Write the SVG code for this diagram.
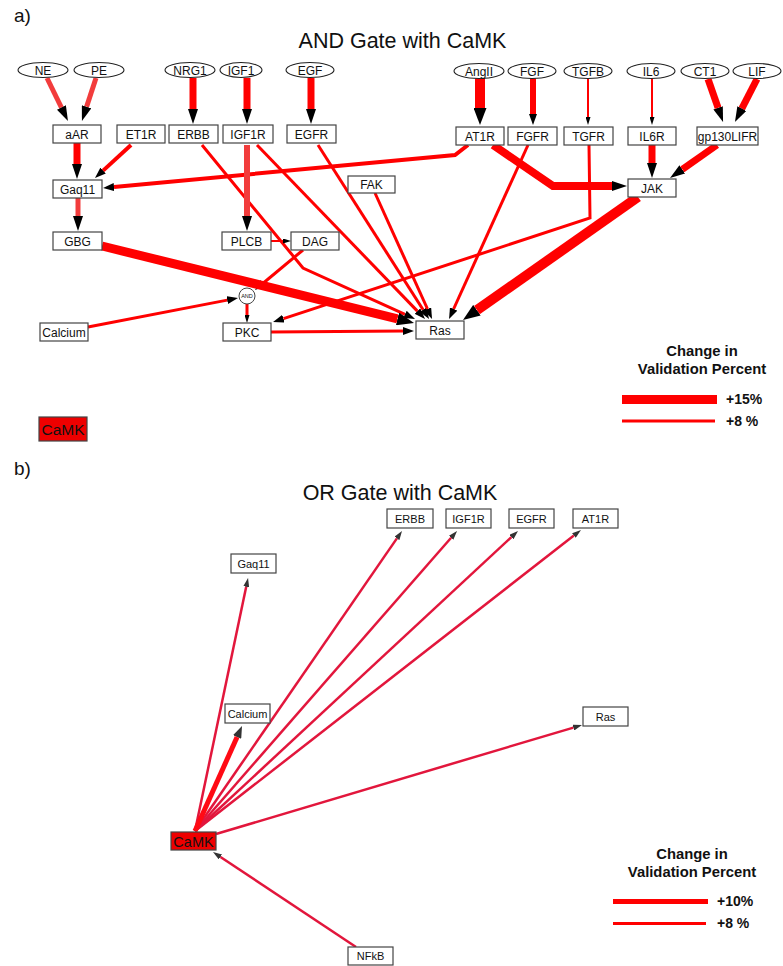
<svg xmlns="http://www.w3.org/2000/svg" width="783" height="966" viewBox="0 0 783 966">
<style>
text{font-family:"Liberation Sans",Arial,sans-serif;fill:#111}
.lbl{font-size:12px;text-anchor:middle}
.lblb{font-size:11px;text-anchor:middle}
.box{fill:#fff;stroke:#444;stroke-width:1.2}
.ell{fill:#fff;stroke:#222;stroke-width:1.1}
.e{fill:none;stroke:#ff0000;stroke-linejoin:miter}
.el{fill:none;stroke:#f23c3c}
.eb{fill:none;stroke:#e2163c;stroke-width:2.5}
.title{font-size:21.5px;text-anchor:middle}
.panel{font-size:19px}
.leg{font-size:14.8px;font-weight:bold;text-anchor:middle}
.legv{font-size:14px;font-weight:bold}
</style>
<defs>
<marker id="aXL" markerUnits="userSpaceOnUse" markerWidth="17" markerHeight="13" refX="0" refY="6.5" orient="auto"><path d="M0,0L17,6.5L0,13z" fill="#000"/></marker>
<marker id="aL" markerUnits="userSpaceOnUse" markerWidth="15" markerHeight="10" refX="0" refY="5" orient="auto"><path d="M0,0L15,5L0,10z" fill="#000"/></marker>
<marker id="aM" markerUnits="userSpaceOnUse" markerWidth="11" markerHeight="8" refX="0" refY="4" orient="auto"><path d="M0,0L11,4L0,8z" fill="#000"/></marker>
<marker id="aS" markerUnits="userSpaceOnUse" markerWidth="8" markerHeight="5" refX="0" refY="2.5" orient="auto"><path d="M0,0L8,2.5L0,5z" fill="#000"/></marker>
<marker id="bS" markerUnits="userSpaceOnUse" markerWidth="9" markerHeight="6" refX="0" refY="3" orient="auto"><path d="M0,0L9,3L0,6z" fill="#333"/></marker>
<marker id="bL" markerUnits="userSpaceOnUse" markerWidth="12" markerHeight="9" refX="0" refY="4.5" orient="auto"><path d="M0,0L12,4.5L0,9z" fill="#333"/></marker>
</defs>
<rect width="783" height="966" fill="#fff"/>

<text class="panel" x="14" y="22">a)</text>
<text class="title" x="402.5" y="48">AND Gate with CaMK</text>
<text class="panel" x="14" y="475">b)</text>
<text class="title" x="400" y="500">OR Gate with CaMK</text>

<g id="connectors-a">
<path class="el" stroke-width="5" d="M47,78L61.4,107.5" marker-end="url(#aL)"/>
<path class="el" stroke-width="5" d="M96,78L86.6,106.7" marker-end="url(#aL)"/>
<path class="e" stroke-width="7" d="M77,143L77,164" marker-end="url(#aL)"/>
<path class="e" stroke-width="4" d="M131,145L103.1,170.6" marker-end="url(#aM)"/>
<path class="e" stroke-width="7" d="M193,78L193,109" marker-end="url(#aL)"/>
<path class="e" stroke-width="7" d="M247,78L247,109" marker-end="url(#aL)"/>
<path class="e" stroke-width="7" d="M311,78L311,109" marker-end="url(#aL)"/>
<path class="e" stroke-width="10" d="M480,78L480,108" marker-end="url(#aXL)"/>
<path class="e" stroke-width="6" d="M533,78L533,114" marker-end="url(#aM)"/>
<path class="e" stroke-width="2" d="M588,78L588,117" marker-end="url(#aS)"/>
<path class="e" stroke-width="2" d="M652,78L652,117" marker-end="url(#aS)"/>
<path class="e" stroke-width="7" d="M708,79L718.1,107.8" marker-end="url(#aL)"/>
<path class="e" stroke-width="7" d="M757,79L741.8,108.6" marker-end="url(#aL)"/>
<path class="e" stroke-width="7" d="M652,145L652,163" marker-end="url(#aL)"/>
<path class="e" stroke-width="7" d="M717,145L682.3,169.4" marker-end="url(#aL)"/>
<path class="e" stroke-width="8" d="M493,145L553,186L612,186" marker-end="url(#aL)"/>
<path class="e" stroke-width="4" d="M468,145L455,155L114,187" marker-end="url(#aM)"/>
<path class="e" stroke-width="3" d="M528,145L453.6,309" marker-end="url(#aM)"/>
<path class="e" stroke-width="3" d="M589,145L590,218L283.5,318.6" marker-end="url(#aM)"/>
<path class="e" stroke-width="10" d="M638,197L476.9,310.2" marker-end="url(#aXL)"/>
<path class="e" stroke-width="3" d="M318,145L423.1,309.7" marker-end="url(#aM)"/>
<path class="e" stroke-width="3" d="M375,193L427.5,309" marker-end="url(#aM)"/>
<path class="e" stroke-width="3" d="M257,145L417.4,311.1" marker-end="url(#aM)"/>
<path class="e" stroke-width="3" d="M202,145L303,268L405,314.4" marker-end="url(#aM)"/>
<path class="el" stroke-width="6" d="M247,145L247,216" marker-end="url(#aL)"/>
<path class="e" stroke-width="2" d="M271,241L283,241" marker-end="url(#aS)"/>
<path class="e" stroke-width="3" d="M303,250L263.4,283" marker-end="url(#aM)"/>
<path class="e" stroke-width="3" d="M88,327L227.2,300.1" marker-end="url(#aM)"/>
<path class="e" stroke-width="3" d="M247,304L247,315" marker-end="url(#aS)"/>
<path class="e" stroke-width="9" d="M102,246L397.5,318.9" marker-end="url(#aXL)"/>
<path class="e" stroke-width="3" d="M271,332L403,331" marker-end="url(#aM)"/>
<path class="el" stroke-width="5" d="M78,198L78,216" marker-end="url(#aL)"/>
</g>

<g id="node-NE"><ellipse class="ell" cx="43" cy="70" rx="25" ry="7.5"/><text class="lbl" x="43" y="74.5">NE</text></g>
<g id="node-PE"><ellipse class="ell" cx="99" cy="70" rx="25" ry="7.5"/><text class="lbl" x="99" y="74.5">PE</text></g>
<g id="node-NRG1"><ellipse class="ell" cx="190" cy="70" rx="25" ry="7.5"/><text class="lbl" x="190" y="74.5">NRG1</text></g>
<g id="node-IGF1"><ellipse class="ell" cx="241" cy="70" rx="21" ry="7.5"/><text class="lbl" x="241" y="74.5">IGF1</text></g>
<g id="node-EGF"><ellipse class="ell" cx="310" cy="70" rx="24" ry="7.5"/><text class="lbl" x="310" y="74.5">EGF</text></g>
<g id="node-AngII"><ellipse class="ell" cx="479" cy="71" rx="25" ry="7.5"/><text class="lbl" x="479" y="75.5">AngII</text></g>
<g id="node-FGF"><ellipse class="ell" cx="532" cy="71" rx="24" ry="7.5"/><text class="lbl" x="532" y="75.5">FGF</text></g>
<g id="node-TGFB"><ellipse class="ell" cx="588" cy="71" rx="24" ry="7.5"/><text class="lbl" x="588" y="75.5">TGFB</text></g>
<g id="node-IL6"><ellipse class="ell" cx="651" cy="71" rx="24" ry="7.5"/><text class="lbl" x="651" y="75.5">IL6</text></g>
<g id="node-CT1"><ellipse class="ell" cx="705" cy="71" rx="24" ry="7.5"/><text class="lbl" x="705" y="75.5">CT1</text></g>
<g id="node-LIF"><ellipse class="ell" cx="757" cy="71" rx="24" ry="7.5"/><text class="lbl" x="757" y="75.5">LIF</text></g>

<g id="node-aAR"><rect class="box" x="53" y="125" width="48" height="18"/><text class="lbl" x="77" y="138.5">aAR</text></g>
<g id="node-ET1R"><rect class="box" x="117" y="125" width="48" height="18"/><text class="lbl" x="141" y="138.5">ET1R</text></g>
<g id="node-ERBB"><rect class="box" x="169" y="125" width="49" height="18"/><text class="lbl" x="193.5" y="138.5">ERBB</text></g>
<g id="node-IGF1R"><rect class="box" x="223" y="125" width="50" height="18"/><text class="lbl" x="248" y="138.5">IGF1R</text></g>
<g id="node-EGFR"><rect class="box" x="287" y="125" width="49" height="18"/><text class="lbl" x="311.5" y="138.5">EGFR</text></g>
<g id="node-AT1R"><rect class="box" x="456" y="127" width="48" height="18"/><text class="lbl" x="480" y="140.5">AT1R</text></g>
<g id="node-FGFR"><rect class="box" x="508" y="127" width="49" height="18"/><text class="lbl" x="532.5" y="140.5">FGFR</text></g>
<g id="node-TGFR"><rect class="box" x="564" y="127" width="49" height="18"/><text class="lbl" x="588.5" y="140.5">TGFR</text></g>
<g id="node-IL6R"><rect class="box" x="628" y="127" width="48" height="18"/><text class="lbl" x="652" y="140.5">IL6R</text></g>
<g id="node-gp130LIFR"><rect class="box" x="697" y="127" width="61" height="18"/><text class="lbl" x="727.5" y="140.5">gp130LIFR</text></g>
<g id="node-Gaq11"><rect class="box" x="53" y="180" width="49" height="18"/><text class="lbl" x="77.5" y="193.5">Gaq11</text></g>
<g id="node-FAK"><rect class="box" x="348" y="176" width="47" height="17"/><text class="lbl" x="371.5" y="189">FAK</text></g>
<g id="node-JAK"><rect class="box" x="628" y="179" width="48" height="18"/><text class="lbl" x="652" y="192.5">JAK</text></g>
<g id="node-GBG"><rect class="box" x="53" y="232" width="49" height="18"/><text class="lbl" x="77.5" y="245.5">GBG</text></g>
<g id="node-PLCB"><rect class="box" x="222" y="232" width="49" height="18"/><text class="lbl" x="246.5" y="245.5">PLCB</text></g>
<g id="node-DAG"><rect class="box" x="291" y="232" width="48" height="18"/><text class="lbl" x="315" y="245.5">DAG</text></g>
<g id="node-AND"><circle cx="247" cy="296" r="8" fill="#fff" stroke="#444" stroke-width="1"/><text x="247" y="298.2" style="font-size:5.5px;text-anchor:middle">AND</text></g>
<g id="node-Calcium"><rect class="box" x="40" y="323" width="48" height="18"/><text class="lbl" x="64" y="336.5">Calcium</text></g>
<g id="node-PKC"><rect class="box" x="223" y="323" width="48" height="18"/><text class="lbl" x="247" y="336.5">PKC</text></g>
<g id="node-Ras"><rect class="box" x="416" y="321" width="48" height="18"/><text class="lbl" x="440" y="334.5">Ras</text></g>
<g id="node-CaMK-a"><rect x="39" y="417" width="48" height="24" fill="#ee0000" stroke="#444" stroke-width="1.2"/><text x="63" y="434.5" style="font-size:15.5px;text-anchor:middle">CaMK</text></g>

<g id="legend-a">
<text class="leg" x="702" y="356">Change in</text>
<text class="leg" x="702" y="374">Validation Percent</text>
<rect x="622" y="395" width="95" height="9" fill="#ff0000"/>
<text class="legv" x="726" y="404">+15%</text>
<rect x="622" y="419.5" width="93" height="3" fill="#ff0000"/>
<text class="legv" x="726" y="426">+8 %</text>
</g>

<g id="connectors-b">
<path class="eb" d="M195,831L246.2,586.8" marker-end="url(#bS)"/>
<path class="eb" d="M195,831L396.9,538.4" marker-end="url(#bS)"/>
<path class="eb" d="M195,831L451.1,537.8" marker-end="url(#bS)"/>
<path class="eb" d="M195,831L511.4,537.1" marker-end="url(#bS)"/>
<path class="eb" d="M195,831L573.9,535.5" marker-end="url(#bS)"/>
<path class="eb" d="M216,834L573.4,727.6" marker-end="url(#bS)"/>
<path class="eb" d="M356,947L220.5,857" marker-end="url(#bS)"/>
<path fill="none" stroke="#ff0a14" stroke-width="5" d="M195,831L237.1,737" marker-end="url(#bL)"/>
</g>

<g id="b-node-Gaq11"><rect class="box" x="231" y="554" width="45" height="19"/><text class="lblb" x="253.5" y="567.5">Gaq11</text></g>
<g id="b-node-ERBB"><rect class="box" x="387" y="509" width="46" height="19"/><text class="lblb" x="410" y="522.5">ERBB</text></g>
<g id="b-node-IGF1R"><rect class="box" x="446" y="509" width="45" height="19"/><text class="lblb" x="468.5" y="522.5">IGF1R</text></g>
<g id="b-node-EGFR"><rect class="box" x="509" y="509" width="45" height="19"/><text class="lblb" x="531.5" y="522.5">EGFR</text></g>
<g id="b-node-AT1R"><rect class="box" x="573" y="509" width="45" height="19"/><text class="lblb" x="595.5" y="522.5">AT1R</text></g>
<g id="b-node-Ras"><rect class="box" x="583" y="707" width="45" height="19"/><text class="lblb" x="605.5" y="720.5">Ras</text></g>
<g id="b-node-Calcium"><rect class="box" x="225" y="704" width="45" height="19"/><text class="lblb" x="247.5" y="717.5">Calcium</text></g>
<g id="b-node-CaMK"><rect x="171" y="832" width="45" height="18" fill="#ee0000" stroke="#444" stroke-width="1.2"/><text x="193.5" y="846.5" style="font-size:14.5px;text-anchor:middle">CaMK</text></g>
<g id="b-node-NFkB"><rect class="box" x="348" y="947" width="45" height="18"/><text class="lblb" x="370.5" y="960">NFkB</text></g>

<g id="legend-b">
<text class="leg" x="692" y="859">Change in</text>
<text class="leg" x="692" y="877">Validation Percent</text>
<rect x="613" y="899" width="95" height="5" fill="#ff0000"/>
<text class="legv" x="717" y="906">+10%</text>
<rect x="613" y="922" width="93" height="3" fill="#ff0000"/>
<text class="legv" x="717" y="928">+8 %</text>
</g>
</svg>
